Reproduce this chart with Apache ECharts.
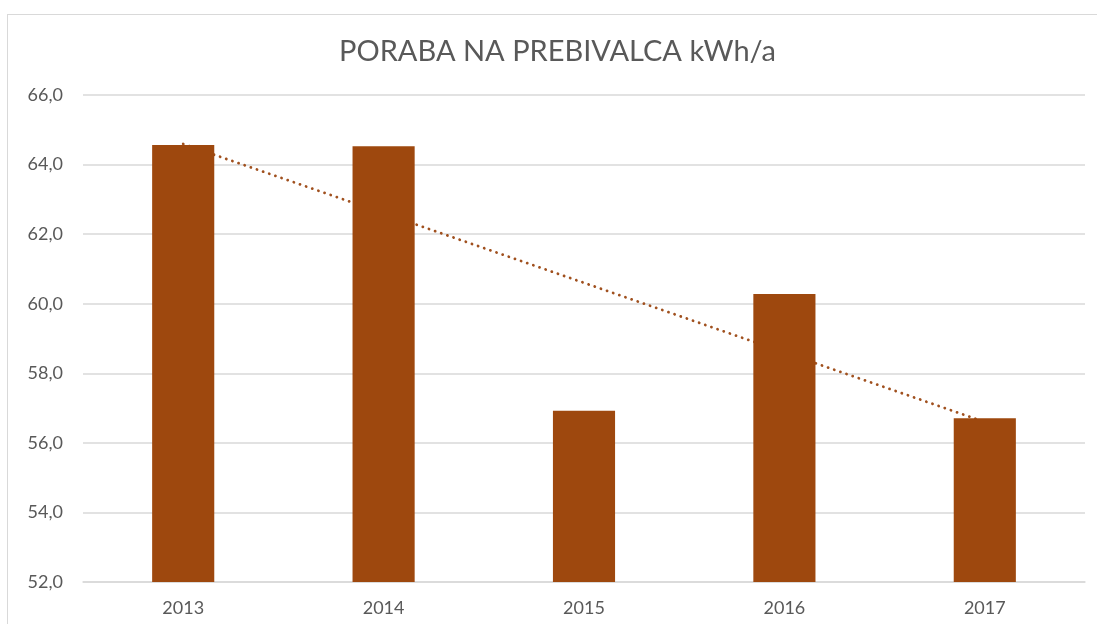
<!DOCTYPE html>
<html>
<head>
<meta charset="utf-8">
<script src="https://cdn.jsdelivr.net/npm/echarts@6/dist/echarts.min.js"></script>
<style>
html,body{margin:0;padding:0;background:#fff;overflow:hidden;}
#frame{position:absolute;left:7px;top:14px;width:1200px;height:700px;border:1px solid #d9d9d9;box-sizing:border-box;}
#chart{position:absolute;left:0;top:0;width:1097px;height:624px;}
</style>
</head>
<body>
<div id="frame"></div>
<div id="chart"></div>
<script>
const titleText = 'PORABA NA PREBIVALCA kWh/a';
const categories = ['2013', '2014', '2015', '2016', '2017'];
const consumption = [64.56, 64.53, 56.92, 60.28, 56.71];
const trendValues = [64.59, 62.6, 60.6, 58.6, 56.6];
const yTicks = { min: 52, max: 66, interval: 2 };

const chart = echarts.init(document.getElementById('chart'), null, { renderer: 'canvas' });
const font = 'Lato, "Liberation Sans", sans-serif';
chart.setOption({
  animation: false,
  backgroundColor: 'transparent',
  title: {
    text: titleText,
    left: 339,
    top: 37,
    padding: 0,
    textStyle: { fontFamily: font, fontSize: 29, fontWeight: 'normal', color: '#595959' }
  },
  grid: { left: 83, right: 12, top: 95, bottom: 42, containLabel: false },
  xAxis: {
    type: 'category',
    data: categories,
    axisLine: { show: true, lineStyle: { color: '#d9d9d9', width: 1.5 } },
    axisTick: { show: false },
    axisLabel: { fontFamily: font, fontSize: 18, color: '#595959', margin: 17 }
  },
  yAxis: {
    type: 'value',
    min: yTicks.min, max: yTicks.max, interval: yTicks.interval,
    axisLine: { show: false },
    axisTick: { show: false },
    splitLine: { lineStyle: { color: '#d9d9d9', width: 1.5 } },
    axisLabel: {
      fontFamily: font, fontSize: 18, color: '#595959', margin: 20,
      formatter: v => v.toFixed(1).replace('.', ',')
    }
  },
  series: [
    {
      type: 'line',
      data: trendValues,
      z: 1,
      symbol: 'none',
      lineStyle: { color: '#a0501e', width: 2.8, type: [0.1, 6.4], cap: 'round' }
    },
    {
      type: 'bar',
      data: consumption,
      z: 2,
      barWidth: '31%',
      itemStyle: { color: '#9e480e' }
    }
  ]
});
</script>
</body>
</html>
